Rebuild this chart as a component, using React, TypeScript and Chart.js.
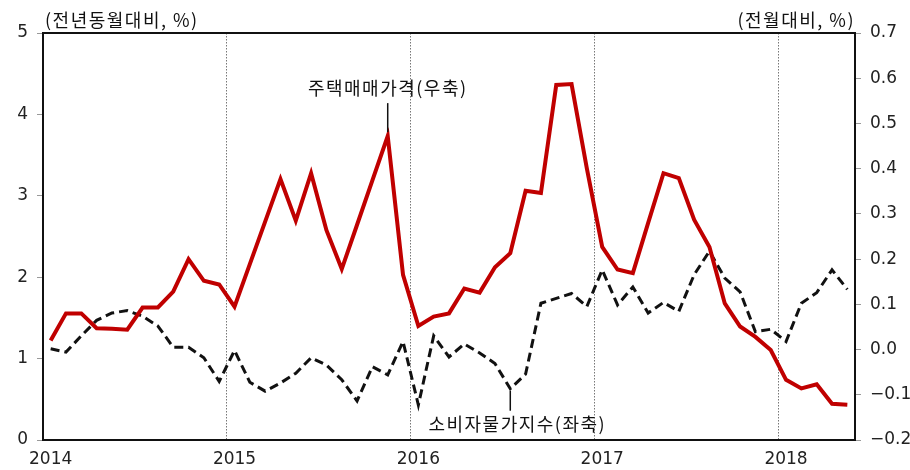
import React, { useEffect, useRef } from "react";
import { Chart, registerables } from "chart.js";

Chart.register(...registerables);

const categories: string[] = [
  "2014.01", "2014.02", "2014.03", "2014.04", "2014.05", "2014.06", "2014.07", "2014.08", "2014.09", "2014.10", "2014.11", "2014.12",
  "2015.01", "2015.02", "2015.03", "2015.04", "2015.05", "2015.06", "2015.07", "2015.08", "2015.09", "2015.10", "2015.11", "2015.12",
  "2016.01", "2016.02", "2016.03", "2016.04", "2016.05", "2016.06", "2016.07", "2016.08", "2016.09", "2016.10", "2016.11", "2016.12",
  "2017.01", "2017.02", "2017.03", "2017.04", "2017.05", "2017.06", "2017.07", "2017.08", "2017.09", "2017.10", "2017.11", "2017.12",
  "2018.01", "2018.02", "2018.03", "2018.04", "2018.05",
];

// 주택매매가격 (전월대비, %, 우축)
const housingPrice: number[] = [
  0.02, 0.08, 0.08, 0.047, 0.046, 0.044, 0.093, 0.093, 0.128, 0.2, 0.152, 0.144,
  0.095, 0.189, 0.283, 0.377, 0.285, 0.39, 0.264, 0.178, 0.276, 0.374, 0.472, 0.165,
  0.052, 0.073, 0.08, 0.135, 0.126, 0.182, 0.213, 0.351, 0.346, 0.585, 0.587, 0.4,
  0.227, 0.177, 0.169, 0.28, 0.39, 0.379, 0.287, 0.227, 0.102, 0.051, 0.028, -0.001,
  -0.067, -0.086, -0.077, -0.12, -0.122,
];

// 소비자물가지수 (전년동월대비, %, 좌축)
const cpi: number[] = [
  1.12, 1.08, 1.28, 1.47, 1.56, 1.59, 1.52, 1.4, 1.14, 1.14, 1.01, 0.72,
  1.1, 0.71, 0.6, 0.7, 0.82, 1.01, 0.92, 0.74, 0.48, 0.9, 0.8, 1.21,
  0.43, 1.28, 1.02, 1.18, 1.07, 0.94, 0.63, 0.81, 1.68, 1.74, 1.8, 1.64,
  2.09, 1.66, 1.88, 1.56, 1.69, 1.58, 2.03, 2.32, 1.99, 1.82, 1.33, 1.36,
  1.21, 1.68, 1.81, 2.09, 1.85,
];

const xTickLabels: string[] = ["2014", "2015", "2016", "2017", "2018"];
const leftAxisTitle = "(전년동월대비, %)";
const rightAxisTitle = "(전월대비, %)";
const housingLabel = "주택매매가격(우축)";
const cpiLabel = "소비자물가지수(좌축)";
const housingPointerIndex = 22;
const cpiPointerIndex = 30;

const DIGIT_FONT = { family: '"DejaVu Sans", "Liberation Sans", sans-serif', size: 17 };
const KR_FONT = '18px "Noto Sans CJK KR", "Noto Sans", sans-serif';

const isJanuary = (i: number) => !!categories[i] && categories[i].endsWith(".01");

const overlayPlugin = {
  id: "overlay",
  afterDatasetsDraw(chart: any) {
    const { ctx, chartArea: a, scales } = chart;
    const x = scales.x;
    const yL = scales.yLeft;
    const yR = scales.yRight;
    ctx.save();
    // frame
    ctx.strokeStyle = "#111";
    ctx.lineWidth = 2;
    ctx.setLineDash([]);
    ctx.strokeRect(a.left, a.top, a.right - a.left, a.bottom - a.top);

    ctx.font = KR_FONT;
    (ctx as any).letterSpacing = "1.5px";
    ctx.fillStyle = "#111";
    ctx.textBaseline = "middle";

    // axis titles
    ctx.textAlign = "left";
    ctx.fillText(leftAxisTitle, a.left + 2, a.top - 13);
    ctx.textAlign = "right";
    ctx.fillText(rightAxisTitle, a.right, a.top - 13);

    // housing pointer
    ctx.lineWidth = 1.5;
    ctx.strokeStyle = "#111";
    const hx = x.getPixelForValue(housingPointerIndex);
    const hy = yR.getPixelForValue(housingPrice[housingPointerIndex]);
    ctx.beginPath();
    ctx.moveTo(hx, hy - 4);
    ctx.lineTo(hx, hy - 33);
    ctx.stroke();
    ctx.textAlign = "center";
    ctx.fillText(housingLabel, hx, hy - 48);

    // cpi pointer
    const cx = x.getPixelForValue(cpiPointerIndex);
    const cy = yL.getPixelForValue(cpi[cpiPointerIndex]);
    ctx.beginPath();
    ctx.moveTo(cx, cy + 2);
    ctx.lineTo(cx, cy + 22);
    ctx.stroke();
    ctx.fillText(cpiLabel, cx + 7, cy + 35);
    ctx.restore();
  },
};

export default function App() {
  const canvasRef = useRef<HTMLCanvasElement | null>(null);

  useEffect(() => {
    if (!canvasRef.current) return;
    const chart = new Chart(canvasRef.current, {
      type: "line",
      data: {
        labels: categories,
        datasets: [
          {
            label: housingLabel,
            data: housingPrice,
            yAxisID: "yRight",
            borderColor: "#C00000",
            borderWidth: 4,
            pointRadius: 0,
            tension: 0,
            fill: false,
          },
          {
            label: cpiLabel,
            data: cpi,
            yAxisID: "yLeft",
            borderColor: "#111",
            borderWidth: 3,
            borderDash: [9, 5],
            pointRadius: 0,
            tension: 0,
            fill: false,
          },
        ],
      },
      options: {
        responsive: false,
        animation: false,
        layout: { padding: { top: 33, left: 0, right: 0, bottom: 0 } },
        plugins: {
          legend: { display: false },
          tooltip: { enabled: false },
          title: { display: false },
        },
        scales: {
          x: {
            type: "category",
            offset: true,
            grid: {
              offset: true,
              drawTicks: false,
              lineWidth: 1,
              color: (c: any) => (c.index > 0 && isJanuary(c.index) ? "#777" : "rgba(0,0,0,0)"),
            },
            border: { display: false, dash: [1.5, 1.5] },
            ticks: {
              autoSkip: false,
              maxRotation: 0,
              padding: 9,
              color: "#222",
              font: DIGIT_FONT,
              callback: (_v: any, i: number) => (isJanuary(i) ? xTickLabels[Math.floor(i / 12)] : ""),
            },
            afterFit: (s: any) => {
              s.height = 30;
            },
          },
          yLeft: {
            type: "linear",
            position: "left",
            min: 0,
            max: 5,
            ticks: {
              stepSize: 1,
              padding: 9,
              color: "#222",
              font: DIGIT_FONT,
              callback: (v: any) => String(v),
            },
            grid: { drawOnChartArea: false, drawTicks: true, tickLength: 6, color: "#999" },
            border: { display: false },
            afterFit: (s: any) => {
              s.width = 43;
            },
          },
          yRight: {
            type: "linear",
            position: "right",
            min: -0.2,
            max: 0.7,
            ticks: {
              stepSize: 0.1,
              padding: 9,
              color: "#222",
              font: DIGIT_FONT,
              callback: (v: any) => {
                const n = Math.abs(Number(v)) < 1e-9 ? 0 : Number(v);
                return n.toFixed(1).replace("-", "\u2212");
              },
            },
            grid: { drawOnChartArea: false, drawTicks: true, tickLength: 6, color: "#999" },
            border: { display: false },
            afterFit: (s: any) => {
              s.width = 55;
            },
          },
        },
      },
      plugins: [overlayPlugin],
    });
    return () => chart.destroy();
  }, []);

  return (
    <div style={{ position: "absolute", left: 0, top: 0, width: 910, height: 470, background: "#fff" }}>
      <canvas ref={canvasRef} width={910} height={470} style={{ display: "block" }} />
    </div>
  );
}
